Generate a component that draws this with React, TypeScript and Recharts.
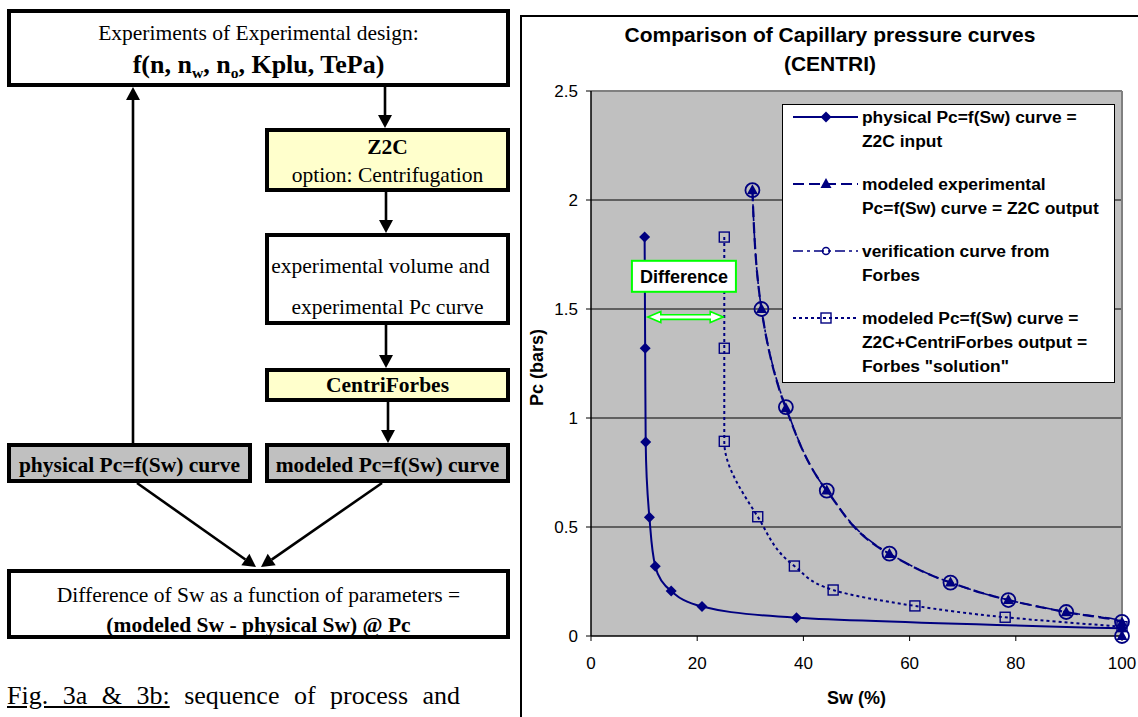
import React from 'react';
import {
  LineChart,
  Line,
  XAxis,
  YAxis,
  CartesianGrid,
  Legend,
  ReferenceDot,
  ReferenceLine,
  Label,
} from 'recharts';

const NAVY = '#000080';
const SANS = '"Liberation Sans", Arial, sans-serif';
const SERIF = '"Liberation Serif", "Times New Roman", serif';

// ---------- data ----------
const physicalSw = [10.1, 10.2, 10.3, 11.0, 12.1, 15.1, 20.9, 38.7, 100];
const physicalPc = [1.83, 1.32, 0.89, 0.545, 0.32, 0.206, 0.135, 0.084, 0.035];

const experimentalSw = [30.4, 32.1, 36.7, 44.4, 56.2, 67.7, 78.6, 89.5, 100, 100];
const experimentalPc = [2.045, 1.5, 1.045, 0.667, 0.376, 0.245, 0.165, 0.109, 0.062, 0];

const verificationSw = [30.4, 32.1, 36.7, 44.4, 56.2, 67.7, 78.6, 89.5, 100, 100];
const verificationPc = [2.045, 1.5, 1.05, 0.667, 0.378, 0.245, 0.165, 0.11, 0.065, 0];

const modeledSw = [25.1, 25.1, 25.1, 31.4, 38.3, 45.6, 61.0, 78.0, 100];
const modeledPc = [1.83, 1.32, 0.893, 0.547, 0.321, 0.211, 0.138, 0.086, 0.043];

const xTicks = [0, 20, 40, 60, 80, 100];
const yTicks = [0, 0.5, 1, 1.5, 2, 2.5];
const gridValues = [0.5, 1, 1.5, 2];

// annotation anchors (data coordinates)
const differenceLabel = { sw: 17.5, pc: 1.65, text: 'Difference' };
const differenceArrow = { fromSw: 10.7, toSw: 24.9, pc: 1.463 };

const legendEntries = [
  { key: 'physical', lines: ['physical Pc=f(Sw) curve =', 'Z2C input'] },
  { key: 'experimental', lines: ['modeled experimental', 'Pc=f(Sw) curve = Z2C output'] },
  { key: 'verification', lines: ['verification curve from', 'Forbes'] },
  { key: 'modeled', lines: ['modeled Pc=f(Sw) curve =', 'Z2C+CentriForbes output =', 'Forbes "solution"'] },
];

const build = (xs: number[], ys: number[]) => xs.map((sw, i) => ({ sw, pc: ys[i] }));
const physicalData = build(physicalSw, physicalPc);
const experimentalData = build(experimentalSw, experimentalPc);
const verificationData = build(verificationSw, verificationPc);
const modeledData = build(modeledSw, modeledPc);

// ---------- styles ----------
type MarkerKind = 'diamond' | 'triangle' | 'circle' | 'square';
const seriesStyles: Record<string, { dash?: string; width: number; marker: MarkerKind }> = {
  physical: { dash: undefined, width: 2, marker: 'diamond' },
  experimental: { dash: '11 5', width: 2.2, marker: 'triangle' },
  verification: { dash: '10 4 3 4', width: 1.6, marker: 'circle' },
  modeled: { dash: '3 3', width: 2, marker: 'square' },
};

function marker(kind: MarkerKind, cx: number, cy: number, small: boolean, key?: string) {
  if (cx == null || cy == null || isNaN(cx) || isNaN(cy)) return <g key={key} />;
  switch (kind) {
    case 'diamond': {
      const r = 5.5;
      return (
        <path key={key} d={`M${cx},${cy - r}L${cx + r},${cy}L${cx},${cy + r}L${cx - r},${cy}Z`} fill={NAVY} />
      );
    }
    case 'triangle': {
      return (
        <path key={key} d={`M${cx},${cy - 6}L${cx + 5.5},${cy + 4}L${cx - 5.5},${cy + 4}Z`} fill={NAVY} />
      );
    }
    case 'circle': {
      const r = small ? 3.5 : 7;
      return <circle key={key} cx={cx} cy={cy} r={r} fill="none" stroke={NAVY} strokeWidth={small ? 1.5 : 1.8} />;
    }
    case 'square':
    default: {
      const h = 5;
      return (
        <rect key={key} x={cx - h} y={cy - h} width={2 * h} height={2 * h} fill="none" stroke={NAVY} strokeWidth={1.4} />
      );
    }
  }
}

const dotFor = (kind: MarkerKind) => (props: any) =>
  marker(kind, props.cx, props.cy, false, `${kind}-${props.index}`);

// ---------- legend ----------
const LEG_W = 333;
const LEG_H = 279;
const renderLegend = () => {
  let center = 13;
  const rows: React.ReactNode[] = [];
  legendEntries.forEach((e) => {
    const st = seriesStyles[e.key];
    const c = center - 1;
    rows.push(
      <svg
        key={`s-${e.key}`}
        width={80}
        height={24}
        style={{ position: 'absolute', left: 0, top: c - 12, overflow: 'visible' }}
      >
        <line x1={10} y1={12} x2={75} y2={12} stroke={NAVY} strokeWidth={st.width} strokeDasharray={st.dash} />
        {marker(st.marker, 43, 12, true)}
      </svg>
    );
    e.lines.forEach((ln, j) => {
      rows.push(
        <div
          key={`t-${e.key}-${j}`}
          style={{
            position: 'absolute',
            left: 79,
            top: c - 12 + j * 24,
            lineHeight: '24px',
            height: 24,
            whiteSpace: 'nowrap',
          }}
        >
          {ln}
        </div>
      );
    });
    center += e.lines.length * 24 + 19;
  });
  return (
    <div
      style={{
        position: 'relative',
        width: LEG_W,
        height: LEG_H,
        boxSizing: 'border-box',
        border: '1px solid #000',
        background: '#fff',
        fontFamily: SANS,
        fontWeight: 'bold',
        fontSize: 17.4,
        color: '#000',
      }}
    >
      {rows}
    </div>
  );
};

// ---------- annotations ----------
const DifferenceBox = (props: any) => {
  const { cx, cy } = props;
  if (cx == null || cy == null) return <g />;
  return (
    <g>
      <rect x={cx - 52} y={cy - 15.5} width={104} height={31} fill="#fff" stroke="#00FF00" strokeWidth={2} />
      <text
        x={cx}
        y={cy}
        dy="0.36em"
        textAnchor="middle"
        fontFamily={SANS}
        fontWeight="bold"
        fontSize={18}
        fill="#000"
      >
        {differenceLabel.text}
      </text>
    </g>
  );
};

const DoubleArrow = (props: any) => {
  const { x1, x2, y1 } = props;
  if (x1 == null || x2 == null || y1 == null) return <g />;
  const y = y1;
  const hl = 13;
  const hw = 5.5;
  const sw = 2.3;
  const a = Math.min(x1, x2);
  const b = Math.max(x1, x2);
  const pts = [
    [a, y],
    [a + hl, y - hw],
    [a + hl, y - sw],
    [b - hl, y - sw],
    [b - hl, y - hw],
    [b, y],
    [b - hl, y + hw],
    [b - hl, y + sw],
    [a + hl, y + sw],
    [a + hl, y + hw],
  ]
    .map((p) => p.join(','))
    .join(' ');
  return <polygon points={pts} fill="#fff" stroke="#00FF00" strokeWidth={1.6} />;
};

// ---------- chart ----------
const CHART_LEFT = 521;
const CHART_TOP = 16;
const CHART_W = 617;
const CHART_H = 701;

const tickStyle = { fill: '#000', fontSize: 17, fontFamily: SANS };

const CapillaryChart = () => (
  <div style={{ position: 'absolute', left: CHART_LEFT, top: CHART_TOP, width: CHART_W, height: CHART_H }}>
    <LineChart width={CHART_W} height={CHART_H} margin={{ top: 75, right: 16, bottom: 0, left: 0 }}>
      <CartesianGrid
        fill="#C0C0C0"
        fillOpacity={1}
        stroke="#000"
        strokeWidth={1}
        vertical={false}
        horizontalValues={gridValues}
      />
      <ReferenceLine y={2.5} stroke="#808080" strokeWidth={2} ifOverflow="visible" />
      <ReferenceLine x={100} stroke="#808080" strokeWidth={2} ifOverflow="visible" />
      <XAxis
        type="number"
        dataKey="sw"
        domain={[0, 100]}
        ticks={xTicks}
        interval={0}
        height={81}
        tickSize={5}
        tickMargin={16}
        tick={tickStyle}
        axisLine={{ stroke: '#000', strokeWidth: 1.5 }}
        tickLine={{ stroke: '#000' }}
      >
        <Label
          content={(p: any) => {
            const vb = p.viewBox || { x: 70, y: 620, width: 531, height: 81 };
            return (
              <text
                x={vb.x + vb.width / 2}
                y={vb.y + 62}
                dy="0.36em"
                textAnchor="middle"
                fontFamily={SANS}
                fontWeight="bold"
                fontSize={18}
                fill="#000"
              >
                Sw (%)
              </text>
            );
          }}
        />
      </XAxis>
      <YAxis
        type="number"
        domain={[0, 2.5]}
        ticks={yTicks}
        interval={0}
        width={70}
        tickSize={5}
        tickMargin={8}
        tick={tickStyle}
        tickFormatter={(v: number) => String(v)}
        axisLine={{ stroke: '#000', strokeWidth: 1.5 }}
        tickLine={{ stroke: '#000' }}
      >
        <Label
          content={(p: any) => {
            const vb = p.viewBox || { x: 0, y: 75, width: 70, height: 545 };
            const x = vb.x + 16;
            const y = vb.y + vb.height / 2 + 4;
            return (
              <text
                x={x}
                y={y}
                dy="0.36em"
                transform={`rotate(-90 ${x} ${y})`}
                textAnchor="middle"
                fontFamily={SANS}
                fontWeight="bold"
                fontSize={18}
                fill="#000"
              >
                Pc (bars)
              </text>
            );
          }}
        />
      </YAxis>

      <Line
        data={physicalData}
        dataKey="pc"
        name="physical"
        type="monotoneY"
        stroke={NAVY}
        strokeWidth={seriesStyles.physical.width}
        dot={dotFor('diamond')}
        activeDot={false}
        isAnimationActive={false}
      />
      <Line
        data={experimentalData}
        dataKey="pc"
        name="experimental"
        type="monotoneY"
        stroke={NAVY}
        strokeWidth={seriesStyles.experimental.width}
        strokeDasharray={seriesStyles.experimental.dash}
        dot={dotFor('triangle')}
        activeDot={false}
        isAnimationActive={false}
      />
      <Line
        data={verificationData}
        dataKey="pc"
        name="verification"
        type="monotoneY"
        stroke={NAVY}
        strokeWidth={seriesStyles.verification.width}
        strokeDasharray={seriesStyles.verification.dash}
        dot={dotFor('circle')}
        activeDot={false}
        isAnimationActive={false}
      />
      <Line
        data={modeledData}
        dataKey="pc"
        name="modeled"
        type="monotoneY"
        stroke={NAVY}
        strokeWidth={seriesStyles.modeled.width}
        strokeDasharray={seriesStyles.modeled.dash}
        dot={dotFor('square')}
        activeDot={false}
        isAnimationActive={false}
      />

      <ReferenceLine
        segment={[
          { x: differenceArrow.fromSw, y: differenceArrow.pc },
          { x: differenceArrow.toSw, y: differenceArrow.pc },
        ]}
        shape={DoubleArrow}
        ifOverflow="visible"
      />
      <ReferenceDot
        x={differenceLabel.sw}
        y={differenceLabel.pc}
        r={1}
        shape={DifferenceBox}
        ifOverflow="visible"
      />

      <Legend
        layout="vertical"
        align="center"
        verticalAlign="middle"
        width={LEG_W}
        height={LEG_H}
        wrapperStyle={{ left: 261, top: 88, width: LEG_W, height: LEG_H }}
        content={renderLegend}
      />
    </LineChart>
  </div>
);

// ---------- flowchart (left panel) ----------
const Box = ({ left, top, width, height, bg = '#fff', style = {}, children }: any) => (
  <div
    style={{
      position: 'absolute',
      left,
      top,
      width,
      height,
      boxSizing: 'border-box',
      border: '4px solid #000',
      background: bg,
      fontFamily: SERIF,
      fontSize: 21.5,
      color: '#000',
      textAlign: 'center',
      whiteSpace: 'nowrap',
      ...style,
    }}
  >
    {children}
  </div>
);

function arrow(x1: number, y1: number, x2: number, y2: number, key: string) {
  const dx = x2 - x1;
  const dy = y2 - y1;
  const len = Math.hypot(dx, dy);
  const ux = dx / len;
  const uy = dy / len;
  const hl = 13;
  const hw = 7;
  const bx = x2 - ux * hl;
  const by = y2 - uy * hl;
  const px = -uy;
  const py = ux;
  return (
    <g key={key}>
      <line x1={x1} y1={y1} x2={bx} y2={by} stroke="#000" strokeWidth={2.6} />
      <polygon
        points={`${x2},${y2} ${bx + px * hw},${by + py * hw} ${bx - px * hw},${by - py * hw}`}
        fill="#000"
      />
    </g>
  );
}

const sub = { fontSize: '0.6em', lineHeight: 0, verticalAlign: '-0.3em' } as React.CSSProperties;

const Flowchart = () => (
  <>
    <Box left={7} top={9} width={503} height={78} style={{ lineHeight: '32px', paddingTop: 4 }}>
      Experiments of Experimental design:
      <br />
      <b style={{ fontSize: 26 }}>
        f(n, n<span style={sub}>w</span>, n<span style={sub}>o</span>, Kplu, TePa)
      </b>
    </Box>
    <Box left={265} top={128} width={245} height={64} bg="#FFFFCC" style={{ lineHeight: '28px', paddingTop: 1 }}>
      <b>Z2C</b>
      <br />
      option: Centrifugation
    </Box>
    <Box left={265} top={233} width={245} height={92} style={{ lineHeight: '41px', paddingTop: 9 }}>
      <div style={{ paddingRight: 14 }}>experimental volume and</div>
      <div>experimental Pc curve</div>
    </Box>
    <Box left={265} top={368} width={245} height={34} bg="#FFFFCC" style={{ lineHeight: '26px' }}>
      <b>CentriForbes</b>
    </Box>
    <Box left={7} top={443} width={245} height={40} bg="#C0C0C0" style={{ lineHeight: '32px', paddingTop: 2 }}>
      <b>physical Pc=f(Sw) curve</b>
    </Box>
    <Box left={265} top={443} width={245} height={40} bg="#C0C0C0" style={{ lineHeight: '32px', paddingTop: 2 }}>
      <b>modeled Pc=f(Sw) curve</b>
    </Box>
    <Box left={7} top={569} width={503} height={70} style={{ lineHeight: '30px', paddingTop: 7 }}>
      Difference of Sw as a function of parameters =
      <br />
      <b>(modeled Sw - physical Sw) @ Pc</b>
    </Box>
    <svg width={520} height={717} style={{ position: 'absolute', left: 0, top: 0, pointerEvents: 'none' }}>
      {arrow(385, 87, 385, 128, 'a1')}
      {arrow(386, 192, 386, 233, 'a2')}
      {arrow(386, 325, 386, 368, 'a3')}
      {arrow(388, 402, 388, 443, 'a4')}
      {arrow(133, 443, 133, 87, 'a5')}
      {arrow(137, 483, 256, 567, 'a6')}
      {arrow(382, 483, 261, 567, 'a7')}
    </svg>
    <div
      style={{
        position: 'absolute',
        left: 7,
        top: 683,
        fontFamily: SERIF,
        fontSize: 26,
        lineHeight: '26px',
        wordSpacing: 8,
        whiteSpace: 'nowrap',
        color: '#000',
      }}
    >
      <span style={{ textDecoration: 'underline' }}>Fig. 3a &amp; 3b:</span> sequence of process and
    </div>
  </>
);

export default function App() {
  return (
    <div
      style={{
        position: 'absolute',
        left: 0,
        top: 0,
        width: 1138,
        height: 717,
        overflow: 'hidden',
        background: '#fff',
      }}
    >
      <Flowchart />
      <CapillaryChart />
      {/* chart frame */}
      <div
        style={{
          position: 'absolute',
          left: CHART_LEFT - 1,
          top: CHART_TOP - 1,
          width: 1200,
          height: 800,
          borderLeft: '2px solid #000',
          borderTop: '2px solid #000',
          pointerEvents: 'none',
        }}
      />
      <div
        style={{
          position: 'absolute',
          left: 580,
          top: 20,
          width: 500,
          textAlign: 'center',
          whiteSpace: 'nowrap',
          fontFamily: SANS,
          fontWeight: 'bold',
          fontSize: 21,
          lineHeight: '29px',
          color: '#000',
        }}
      >
        Comparison of Capillary pressure curves
        <br />
        (CENTRI)
      </div>
    </div>
  );
}
